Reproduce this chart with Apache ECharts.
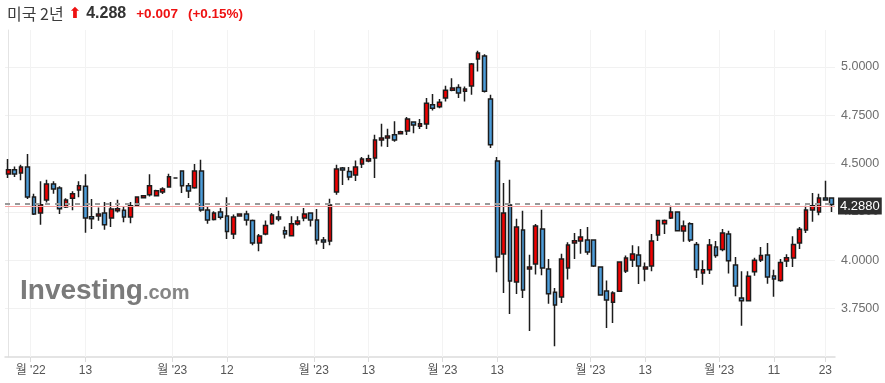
<!DOCTYPE html>
<html>
<head>
<meta charset="utf-8">
<style>html,body{margin:0;padding:0;background:#fff;}#c{width:885px;height:383px;}</style>
<script src="https://cdn.jsdelivr.net/npm/echarts@6/dist/echarts.min.js"></script>
</head>
<body>
<div id="c"></div>
<script>
// ---- data ----
const opens  = [4.446,4.468,4.451,4.482,4.327,4.244,4.311,4.394,4.373,4.275,4.321,4.363,4.383,4.225,4.229,4.244,4.218,4.256,4.259,4.223,4.280,4.323,4.339,4.334,4.353,4.378,4.425,4.461,4.385,4.375,4.461,4.260,4.211,4.249,4.229,4.136,4.229,4.239,4.205,4.089,4.136,4.189,4.224,4.153,4.127,4.187,4.218,4.244,4.208,4.105,4.099,4.353,4.477,4.459,4.440,4.497,4.513,4.528,4.621,4.632,4.649,4.654,4.668,4.714,4.693,4.704,4.804,4.793,4.838,4.879,4.893,4.874,4.900,5.040,5.055,4.833,4.513,4.032,4.285,3.888,4.156,3.955,3.981,4.161,3.955,3.834,3.810,3.960,4.089,4.100,4.105,4.105,3.965,3.841,3.783,3.840,3.945,4.001,4.027,3.955,3.970,4.131,4.189,4.218,4.249,4.151,4.189,4.082,3.934,3.951,4.069,4.055,4.136,3.976,3.805,3.791,3.941,4.001,4.027,3.919,3.895,3.996,4.012,4.089,4.156,4.260,4.249,4.322,4.322];
const closes = [4.468,4.446,4.482,4.327,4.239,4.287,4.394,4.368,4.266,4.311,4.344,4.385,4.218,4.215,4.239,4.184,4.265,4.266,4.223,4.282,4.327,4.334,4.385,4.359,4.368,4.432,4.425,4.385,4.358,4.461,4.260,4.208,4.244,4.222,4.148,4.224,4.239,4.208,4.089,4.125,4.179,4.234,4.213,4.136,4.189,4.203,4.239,4.208,4.105,4.094,4.285,4.471,4.466,4.430,4.482,4.523,4.525,4.621,4.632,4.642,4.621,4.664,4.730,4.699,4.705,4.812,4.786,4.817,4.878,4.890,4.864,4.885,5.014,5.071,4.874,4.597,4.017,4.244,3.893,4.172,3.846,3.965,4.177,3.960,3.827,3.769,4.007,4.079,4.101,4.120,4.043,3.970,3.821,3.795,3.831,3.991,4.012,4.032,3.970,3.965,4.100,4.205,4.205,4.249,4.153,4.177,4.105,3.951,3.951,4.079,4.024,4.141,3.998,3.867,3.791,3.917,4.000,4.025,3.914,3.903,3.989,4.013,4.082,4.160,4.260,4.282,4.322,4.311,4.288];
const lows   = [4.425,4.430,4.413,4.316,4.234,4.184,4.299,4.344,4.239,4.270,4.258,4.325,4.142,4.161,4.204,4.158,4.172,4.247,4.197,4.191,4.275,4.320,4.330,4.329,4.342,4.377,4.423,4.347,4.322,4.370,4.251,4.189,4.206,4.210,4.110,4.110,4.227,4.179,4.077,4.046,4.129,4.184,4.201,4.113,4.124,4.180,4.201,4.175,4.081,4.058,4.077,4.339,4.389,4.413,4.409,4.477,4.506,4.425,4.588,4.585,4.613,4.650,4.647,4.657,4.678,4.678,4.774,4.786,4.821,4.873,4.838,4.821,4.855,4.976,4.867,4.580,3.938,3.831,3.722,3.826,3.805,3.635,3.926,3.922,3.775,3.555,3.779,3.900,4.007,4.034,4.029,3.965,3.819,3.650,3.676,3.836,3.934,3.965,3.877,3.891,3.943,4.100,4.136,4.213,4.148,4.096,4.094,3.908,3.874,3.929,4.013,4.046,3.931,3.814,3.662,3.788,3.920,3.991,3.879,3.812,3.889,3.965,3.965,4.058,4.141,4.199,4.232,4.308,4.249];
const highs  = [4.523,4.485,4.494,4.549,4.344,4.408,4.416,4.408,4.382,4.321,4.356,4.408,4.445,4.316,4.273,4.301,4.301,4.313,4.278,4.301,4.330,4.337,4.445,4.365,4.377,4.447,4.427,4.463,4.399,4.497,4.520,4.279,4.253,4.270,4.325,4.236,4.243,4.256,4.210,4.136,4.205,4.244,4.256,4.175,4.227,4.227,4.270,4.248,4.265,4.120,4.318,4.494,4.482,4.482,4.516,4.533,4.545,4.649,4.706,4.680,4.719,4.669,4.740,4.718,4.730,4.838,4.859,4.833,4.902,4.941,4.910,4.898,5.019,5.083,5.065,4.855,4.533,4.399,4.416,4.215,4.256,4.029,4.187,4.261,4.007,3.857,4.034,4.093,4.141,4.162,4.172,4.106,3.967,3.896,3.840,3.994,4.024,4.077,4.072,3.989,4.136,4.208,4.210,4.282,4.253,4.205,4.196,4.094,4.000,4.110,4.100,4.162,4.153,4.017,3.943,3.943,4.013,4.069,4.089,3.951,4.007,4.031,4.124,4.172,4.282,4.347,4.344,4.411,4.325];

const tickPositions = [3.5, 12, 25.5, 34, 47.5, 56, 67.5, 76, 90.5, 99, 110.5, 119, 127];
const tickLabels    = ["월 '22","13","월 '23","12","월 '23","13","월 '23","13","월 '23","13","월 '23","11","23"];
const yTicks = [3.75, 4.0, 4.25, 4.5, 4.75, 5.0];

const titleName = '미국 2년';
const lastPrice = '4.288';
const change = '+0.007';
const changePct = '(+0.15%)';
const priceTag = '4.2880';
const refLine = 4.291;
const lastLine = 4.282;

// ---- build ----
const categories = opens.map((_, i) => String(i));
const ohlc = opens.map((o, i) => [o, closes[i], lows[i], highs[i]]);
const lastIdx = opens.length - 0.5;

const FONT = "'Liberation Sans', Arial, 'Noto Sans CJK KR', sans-serif";

const chart = echarts.init(document.getElementById('c'), null, {renderer: 'canvas'});
chart.setOption({
  animation: false,
  backgroundColor: '#ffffff',
  textStyle: {fontFamily: FONT},
  title: [{
    left: 7, top: 4, padding: 0,
    text: '{n|' + titleName + '} {ar|⬆} {p|' + lastPrice + '}  {c|' + change + '}  {c|' + changePct + '}',
    textStyle: {
      rich: {
        n: {fontFamily: "'Noto Sans CJK KR', sans-serif", fontSize: 16, fontWeight: 'normal', color: '#3c3c3c', lineHeight: 20},
        ar: {fontFamily: "'DejaVu Sans', sans-serif", fontSize: 15, color: '#ee1111', lineHeight: 20},
        p: {fontFamily: FONT, fontSize: 16, fontWeight: 'bold', color: '#333333', lineHeight: 20},
        c: {fontFamily: FONT, fontSize: 13.5, fontWeight: 'bold', color: '#ee1111', lineHeight: 20}
      }
    }
  }, {
    left: 20, top: 276, padding: 0,
    text: '{a|Investing}{b|.com}',
    textStyle: {
      rich: {
        a: {fontFamily: FONT, fontSize: 28, fontWeight: 'bold', color: '#7a7a7a', lineHeight: 30},
        b: {fontFamily: FONT, fontSize: 20, color: '#858585', lineHeight: 30, padding: [4, 0, 0, 0]}
      }
    }
  }],
  grid: {left: 5, right: 50, top: 30, bottom: 26, containLabel: false, outerBoundsMode: 'none'},
  xAxis: [{
    type: 'category', data: categories, boundaryGap: true, show: false
  }, {
    type: 'value', position: 'bottom', min: -0.5, max: lastIdx,
    axisLine: {show: true, lineStyle: {color: '#dcdcdc', width: 1.5}},
    axisTick: {show: true, customValues: tickPositions, length: 5, lineStyle: {color: '#dcdcdc'}},
    axisLabel: {
      show: true, customValues: tickPositions, margin: 8, color: '#555555', fontSize: 12,
      fontFamily: "'Liberation Sans', 'Noto Sans CJK KR', sans-serif",
      formatter: function (v) { const k = tickPositions.indexOf(v); return k >= 0 ? tickLabels[k] : ''; }
    },
    splitLine: {show: false}
  }, {
    type: 'value', position: 'top', min: -0.5, max: lastIdx,
    axisLine: {show: false},
    axisLabel: {show: false},
    axisTick: {show: true, inside: true, customValues: tickPositions, length: 327, lineStyle: {color: '#f3f3f3', width: 1}},
    splitLine: {show: false}
  }],
  yAxis: [{
    type: 'value', position: 'right', min: 3.5, max: 5.19, interval: 0.25,
    axisLine: {show: true, lineStyle: {color: '#e4e4e4'}},
    axisTick: {show: false},
    splitLine: {show: true, showMinLine: false, showMaxLine: false, lineStyle: {color: '#f1f1f1', width: 1}},
    axisLabel: {
      margin: 6, color: '#6e6e6e', fontSize: 12.5, fontFamily: FONT,
      showMaxLabel: false,
      formatter: function (v) {
        for (const t of yTicks) { if (Math.abs(t - v) < 1e-6) return t.toFixed(4); }
        return '';
      }
    }
  }],
  series: [{
    type: 'candlestick',
    xAxisIndex: 0, yAxisIndex: 0,
    data: ohlc,
    barWidth: '66%',
    itemStyle: {
      color: '#f20000', color0: '#4d9dda',
      borderColor: '#1c1c1c', borderColor0: '#1c1c1c', borderColorDoji: '#1c1c1c', borderWidth: 1.5
    },
    emphasis: {disabled: true},
    markLine: {
      silent: true, symbol: ['none', 'none'], animation: false,
      data: [{
        yAxis: refLine,
        lineStyle: {color: '#9a9a9a', type: [5, 5], width: 2},
        label: {show: false}
      }, {
        yAxis: lastLine,
        lineStyle: {color: '#f4a3a3', type: 'solid', width: 1.2},
        label: {
          show: true, position: 'end', distance: 3, formatter: priceTag,
          backgroundColor: '#2e2e2e', color: '#ffffff', fontSize: 13, fontFamily: FONT,
          padding: [2, 2, 1, 2], lineHeight: 14
        }
      }]
    },
    z: 3
  }]
});
</script>
</body>
</html>
